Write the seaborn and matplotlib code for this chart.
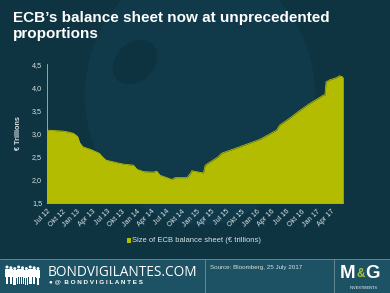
import matplotlib
matplotlib.use("Agg")
import matplotlib.pyplot as plt
import matplotlib.patches as mpatches
import seaborn as sns
import pandas as pd
import numpy as np

# ---- data ----
dates = ["2012-07-02", "2012-08-20", "2012-10-04", "2012-11-08", "2012-12-10",
         "2013-01-04", "2013-01-16", "2013-02-04", "2013-03-25", "2013-05-15",
         "2013-06-04", "2013-06-25", "2013-09-04", "2013-10-15", "2013-12-10",
         "2014-01-01", "2014-02-10", "2014-04-10", "2014-05-01", "2014-05-22",
         "2014-07-01", "2014-08-01", "2014-08-22", "2014-11-01", "2014-11-22",
         "2014-12-01", "2015-02-10", "2015-02-20", "2015-03-01", "2015-05-10",
         "2015-06-01", "2015-09-20", "2016-01-20", "2016-05-01", "2016-05-20",
         "2016-07-20", "2016-09-20", "2016-11-20", "2017-02-10", "2017-02-20",
         "2017-02-27", "2017-03-20", "2017-05-01", "2017-05-20", "2017-06-12"]
balance = [3.07, 3.06, 3.05, 3.03, 3.00,
           2.93, 2.80, 2.71, 2.65, 2.57,
           2.49, 2.42, 2.36, 2.33, 2.31,
           2.22, 2.17, 2.16, 2.18, 2.09,
           2.04, 2.00, 2.04, 2.04, 2.13,
           2.19, 2.14, 2.30, 2.33, 2.49,
           2.57, 2.71, 2.87, 3.07, 3.18,
           3.33, 3.50, 3.65, 3.83, 3.84,
           4.12, 4.16, 4.21, 4.25, 4.22]
tick_labels = ["Jul 12", "Okt 12", "Jan 13", "Apr 13", "Jul 13", "Okt 13", "Jan 14",
               "Apr 14", "Jul 14", "Okt 14", "Jan 15", "Apr 15", "Jul 15", "Okt 15",
               "Jan 16", "Apr 16", "Jul 16", "Okt 16", "Jan 17", "Apr 17"]
y_ticks = [1.5, 2.0, 2.5, 3.0, 3.5, 4.0, 4.5]
title = "ECB\u2019s balance sheet now at unprecedented\nproportions"
legend_label = "Size of ECB balance sheet (\u20ac trillions)"
y_label = "\u20ac Trillions"
source = "Source: Bloomberg, 25 July 2017"

df = pd.DataFrame({"date": pd.to_datetime(dates), "value": balance})

BG = "#0e3441"
FILL = "#b3bc00"
FOOT = "#1c5263"
TXT = "#d9e2e5"

sns.set_theme(style="dark")
plt.rcParams["font.family"] = ["Liberation Sans", "DejaVu Sans"]

fig = plt.figure(figsize=(3.9, 2.93), dpi=100)
fig.patch.set_facecolor(BG)

# background layer (watermark + footer)
bg = fig.add_axes([0, 0, 1, 1], zorder=-10)
bg.set_xlim(0, 390)
bg.set_ylim(293, 0)
bg.axis("off")
bg.add_patch(mpatches.Ellipse((200, 95), 230, 260, facecolor="#10394a", edgecolor="none"))
bg.add_patch(mpatches.Ellipse((135, 62), 50, 38, angle=-45, facecolor="#0d3240",
                              edgecolor="none"))
bg.add_patch(mpatches.Rectangle((0, 259), 390, 34, facecolor=FOOT, edgecolor="none"))
bg.plot([0, 390], [259, 259], color="#6f8f99", linewidth=0.6)
for xv in (205, 334):
    bg.plot([xv, xv], [259, 293], color="#6f8f99", linewidth=0.6)
# people icons
for i, xc in enumerate(np.linspace(7, 38, 9)):
    top = 267 + (i % 3) * 0.8
    bg.add_patch(mpatches.Circle((xc, top), 1.5, facecolor="white", edgecolor="none"))
    bg.add_patch(mpatches.Rectangle((xc - 1.9, top + 1.6), 3.8, 8, facecolor="white",
                                    edgecolor="none"))
    bg.add_patch(mpatches.Rectangle((xc - 1.3, top + 9.6), 1.1, 7, facecolor="white",
                                    edgecolor="none"))
    bg.add_patch(mpatches.Rectangle((xc + 0.2, top + 9.6), 1.1, 7, facecolor="white",
                                    edgecolor="none"))

ax = fig.add_axes([47 / 390, 90.5 / 293, (343.3 - 47) / 390, 138.2 / 293])
ax.set_facecolor("none")
ax.fill_between(df["date"], df["value"], 1.5, color=FILL, linewidth=0, zorder=2)
sns.lineplot(data=df, x="date", y="value", ax=ax, color=FILL, linewidth=0.6, zorder=3)

ax.set_xlim(pd.Timestamp("2012-07-01"), pd.Timestamp("2017-06-12"))
ax.set_ylim(1.5, 4.5)
ax.set_yticks(y_ticks)
ax.set_yticklabels([f"{v:.1f}".replace(".", ",") for v in y_ticks])
tick_dates = pd.date_range("2012-07-01", periods=len(tick_labels), freq="QS-JAN")
ax.set_xticks(tick_dates)
ax.set_xticklabels(tick_labels, rotation=45, ha="right", rotation_mode="anchor")
ax.tick_params(axis="both", colors=TXT, labelsize=5.2, length=2, width=0.5, pad=1.5)
ax.tick_params(axis="x", pad=2)
for s in ["top", "right"]:
    ax.spines[s].set_visible(False)
for s in ["left", "bottom"]:
    ax.spines[s].set_visible(True)
    ax.spines[s].set_color("#a9b8bd")
    ax.spines[s].set_linewidth(0.6)
ax.grid(False)
ax.set_xlabel("")
ax.set_ylabel(y_label, color=TXT, fontsize=5.2, fontweight="bold", labelpad=7)

# title
fig.text(13 / 390, 1 - 11 / 293, title, color="white", fontsize=11, fontweight="bold",
         va="top", ha="left", linespacing=1.15)

# legend
bg.add_patch(mpatches.Rectangle((127, 238), 4, 5, facecolor=FILL, edgecolor="none"))
fig.text(132 / 390, 1 - 240.5 / 293, legend_label, color=TXT, fontsize=5.5,
         va="center", ha="left")

fig.text(48 / 390, 1 - 272 / 293, "BONDVIGILANTES.COM", color="white",
         fontsize=9.8, va="center", ha="left", family=["Open Sans", "DejaVu Sans"])
fig.text(49 / 390, 1 - 282 / 293, "\u25cf @  B O N D V I G I L A N T E S", color="white",
         fontsize=4.6, va="center", ha="left", fontweight="bold")
fig.text(210 / 390, 1 - 267 / 293, source, color=TXT, fontsize=4.5, va="center", ha="left")

# M&G logo
fig.text(340 / 390, 1 - 274 / 293, "M", color="white", fontsize=13.5, fontweight="bold",
         va="center", ha="left")
fig.text(356.5 / 390, 1 - 274 / 293, "&", color="#a8c43a", fontsize=8.5, fontweight="bold",
         va="center", ha="left")
fig.text(365.5 / 390, 1 - 274 / 293, "G", color="white", fontsize=13.5, fontweight="bold",
         va="center", ha="left")
fig.text(364 / 390, 1 - 288 / 293, "INVESTMENTS", color="white", fontsize=2.8,
         va="center", ha="center")

fig.savefig("out.png", dpi=100, facecolor=BG)
